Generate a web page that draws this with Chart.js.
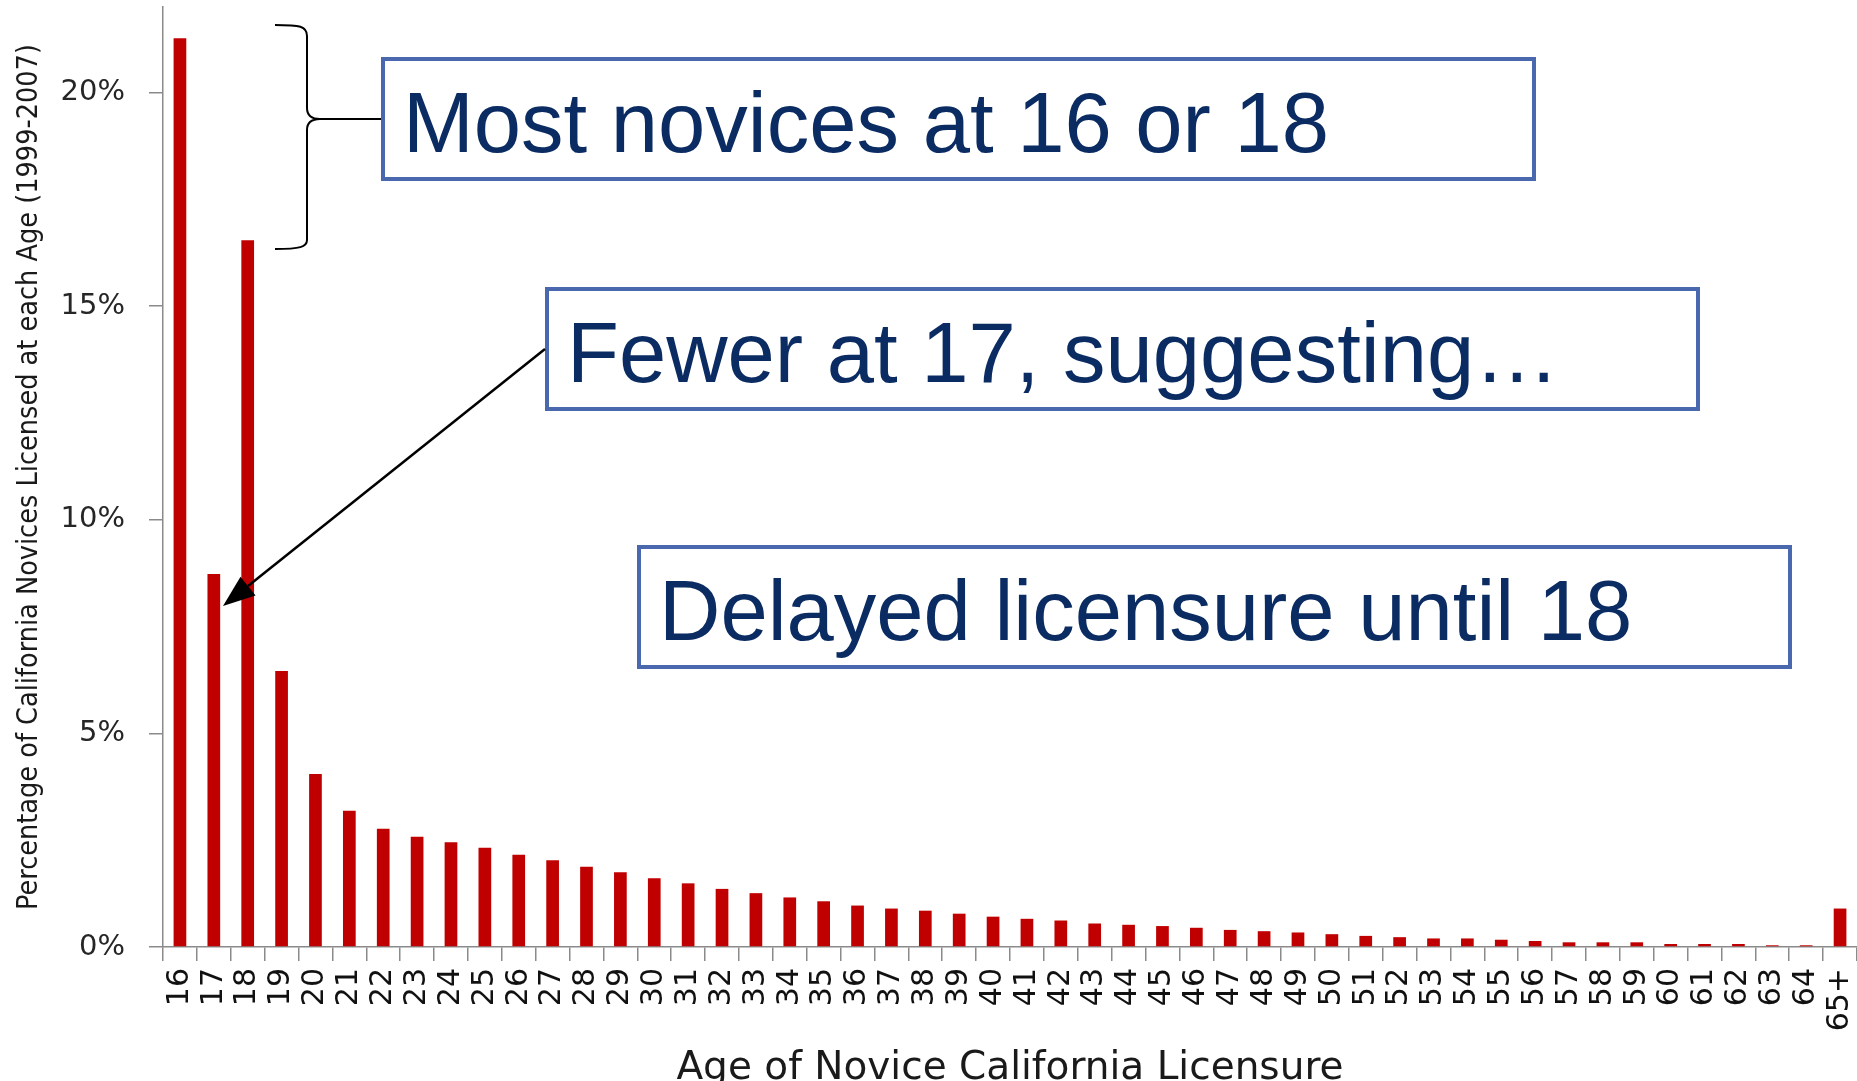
<!DOCTYPE html>
<html><head><meta charset="utf-8">
<script src="https://cdn.jsdelivr.net/npm/chart.js@4.4.1/dist/chart.umd.min.js"></script>
<style>html,body{margin:0;padding:0;background:#fff;overflow:hidden;}canvas{display:block;}</style>
</head><body>
<canvas id="c" width="1857" height="1081"></canvas>
<script>
// ---- data ----
const ages = ['16','17','18','19','20','21','22','23','24','25','26','27','28','29','30','31','32','33','34','35','36','37','38','39','40','41','42','43','44','45','46','47','48','49','50','51','52','53','54','55','56','57','58','59','60','61','62','63','64','65+'];
const percentages = [21.27,8.73,16.54,6.46,4.05,3.19,2.77,2.58,2.45,2.32,2.16,2.03,1.88,1.75,1.61,1.49,1.36,1.26,1.16,1.07,0.97,0.90,0.85,0.78,0.71,0.66,0.62,0.55,0.52,0.49,0.45,0.40,0.37,0.34,0.30,0.26,0.23,0.20,0.20,0.17,0.14,0.11,0.11,0.11,0.07,0.07,0.07,0.04,0.04,0.90];
const yTickValues = [0,5,10,15,20];
const yAxisMax = 22;
const xAxisTitle = 'Age of Novice California Licensure';
const yAxisTitle = 'Percentage of California Novices Licensed at each Age (1999-2007)';
const calloutTexts = ['Most novices at 16 or 18', 'Fewer at 17, suggesting\u2026', 'Delayed licensure until 18'];

// ---- styles ----
const NARROW = '"Liberation Sans Narrow","DejaVu Sans Condensed","Roboto Condensed",sans-serif';
const WIDE = '"DejaVu Sans", Verdana, sans-serif';
function fitSize(text, family, target) {
  const c = document.createElement('canvas').getContext('2d');
  c.font = '100px ' + family;
  return 100 * target / c.measureText(text).width;
}
const yTitleSize = Math.min(34, fitSize(yAxisTitle, NARROW, 866));
const axisGray = '#8a8a8a';
const calloutBoxes = [
  {x: 381, y: 57, w: 1155, h: 124},
  {x: 545, y: 287, w: 1155, h: 124},
  {x: 637, y: 545, w: 1155, h: 124}
];

const annotations = {
  id: 'annotations',
  afterDraw(chart) {
    const ctx = chart.ctx;
    ctx.save();
    calloutBoxes.forEach((b, i) => {
      ctx.fillStyle = '#ffffff';
      ctx.fillRect(b.x, b.y, b.w, b.h);
      ctx.lineWidth = 4;
      ctx.strokeStyle = '#4a68ae';
      ctx.strokeRect(b.x + 2, b.y + 2, b.w - 4, b.h - 4);
      ctx.fillStyle = '#0b2c62';
      ctx.font = '85px "Liberation Sans", Arial, sans-serif';
      ctx.textBaseline = 'alphabetic';
      ctx.textAlign = 'left';
      ctx.fillText(calloutTexts[i], b.x + 22, b.y + 95);
    });
    // brace
    ctx.strokeStyle = '#000';
    ctx.lineWidth = 2;
    ctx.beginPath();
    ctx.moveTo(275, 25);
    ctx.bezierCurveTo(300, 25, 307, 26, 307, 36);
    ctx.lineTo(307, 108);
    ctx.bezierCurveTo(307, 116, 312, 119, 320, 119);
    ctx.bezierCurveTo(312, 119, 307, 122, 307, 130);
    ctx.lineTo(307, 240);
    ctx.bezierCurveTo(307, 247, 300, 249, 275, 249);
    ctx.stroke();
    ctx.beginPath();
    ctx.moveTo(318, 119);
    ctx.lineTo(381, 119);
    ctx.stroke();
    // arrow
    const sx = 545, sy = 349, tx = 223, ty = 606;
    const ang = Math.atan2(ty - sy, tx - sx);
    const len = 32, half = 12;
    const bx = tx - len * Math.cos(ang), by = ty - len * Math.sin(ang);
    ctx.lineWidth = 2.5;
    ctx.beginPath();
    ctx.moveTo(sx, sy);
    ctx.lineTo(bx, by);
    ctx.stroke();
    ctx.fillStyle = '#000';
    ctx.beginPath();
    ctx.moveTo(tx, ty);
    ctx.lineTo(bx + half * Math.sin(ang), by - half * Math.cos(ang));
    ctx.lineTo(bx - half * Math.sin(ang), by + half * Math.cos(ang));
    ctx.closePath();
    ctx.fill();
    ctx.restore();
  }
};

new Chart(document.getElementById('c'), {
  type: 'bar',
  data: {
    labels: ages,
    datasets: [{
      data: percentages,
      backgroundColor: '#C00000',
      borderWidth: 0,
      barPercentage: 0.375,
      categoryPercentage: 1.0
    }]
  },
  options: {
    responsive: false,
    animation: false,
    events: [],
    layout: {padding: {top: 7, left: 0, right: 0, bottom: 0}},
    plugins: {legend: {display: false}, tooltip: {enabled: false}},
    scales: {
      x: {
        type: 'category',
        offset: true,
        grid: {offset: true, drawOnChartArea: false, drawTicks: true, tickLength: 14, color: axisGray, lineWidth: 1.5},
        border: {display: true, color: axisGray, width: 1.5},
        ticks: {autoSkip: false, minRotation: 90, maxRotation: 90, padding: 7, color: '#111111',
                font: {family: WIDE, size: 30}},
        title: {display: true, text: xAxisTitle, color: '#1a1a1a',
                font: {family: WIDE, size: 39}, padding: {top: 0, bottom: -11}},
        afterFit(s) { s.height = 134; s.paddingLeft = 0; s.paddingRight = 0; }
      },
      y: {
        min: 0, max: yAxisMax,
        grid: {drawOnChartArea: false, drawTicks: true, tickLength: 14, color: axisGray, lineWidth: 1.5},
        border: {display: true, color: axisGray, width: 1.5},
        ticks: {stepSize: 5, padding: 24, color: '#262626',
                font: {family: WIDE, size: 29},
                callback: v => v + '%'},
        afterBuildTicks(s) { s.ticks = yTickValues.map(v => ({value: v})); },
        title: {display: true, text: yAxisTitle, color: '#1a1a1a',
                font: {family: NARROW, size: yTitleSize}, padding: {top: 30 - 0.6 * yTitleSize, bottom: 0}},
        afterFit(s) { s.width = 163; s.paddingTop = 0; s.paddingBottom = 0; }
      }
    }
  },
  plugins: [annotations]
});
</script>
</body></html>
